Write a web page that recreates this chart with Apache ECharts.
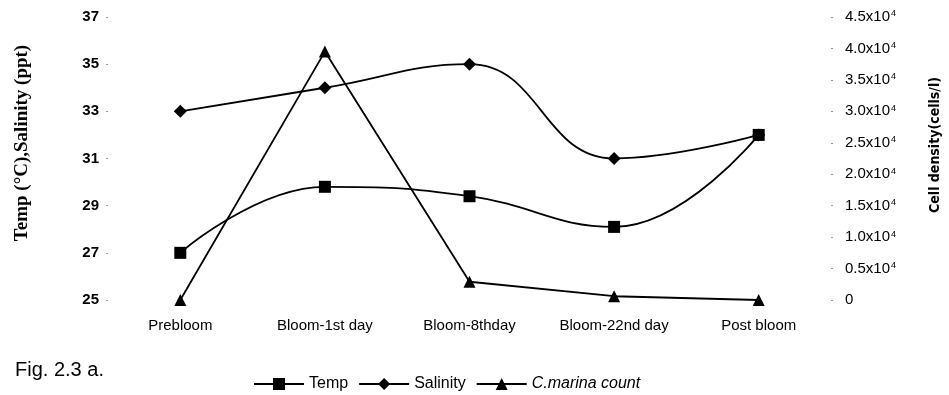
<!DOCTYPE html>
<html>
<head>
<meta charset="utf-8">
<title>Temperature, salinity and C. marina count</title>
<script src="https://cdn.jsdelivr.net/npm/echarts@6/dist/echarts.min.js"></script>
<style>
  html, body { margin: 0; padding: 0; background: #fff; }
  #chart { width: 949px; height: 395px; }
</style>
</head>
<body>
<div id="chart"></div>
<script>
// Sampling stages along the bloom
const stages = ['Prebloom', 'Bloom-1st day', 'Bloom-8thday', 'Bloom-22nd day', 'Post bloom'];

// Water temperature (°C) and salinity (ppt) at each stage
const temp = [27, 29.8, 29.4, 28.1, 32];
const salinity = [33, 34, 35, 31, 32];

// C. marina cell density (cells/l)
const cellCount = [0, 39500, 2900, 600, 0];

// Axis ticks
const leftTicks = [25, 27, 29, 31, 33, 35, 37];
const rightTicks = [0, 5000, 10000, 15000, 20000, 25000, 30000, 35000, 40000, 45000];

const SANS = 'Arial, "Liberation Sans", Helvetica, sans-serif';
const SERIF = '"Times New Roman", "Liberation Serif", serif';
const NARROW = '"Liberation Sans Narrow", "Arial Narrow", "DejaVu Sans Condensed", sans-serif';
const INK = '#000';

function cellLabel(v) {
  if (v === 0) return '{n|0}';
  return '{n|' + (v / 10000).toFixed(1) + 'x10}{e|4}';
}

const chart = echarts.init(document.getElementById('chart'), null, { renderer: 'canvas' });

chart.setOption({
  backgroundColor: '#fff',
  animation: false,
  grid: { left: 108, right: 118, top: 17, bottom: 95, containLabel: false },
  legend: {
    left: 248,
    top: 371,
    itemWidth: 50,
    itemHeight: 15,
    itemGap: 10,
    textStyle: { fontFamily: SANS, fontSize: 16, color: INK },
    data: [
      { name: 'Temp' },
      { name: 'Salinity' },
      { name: 'C.marina count', textStyle: { fontStyle: 'italic' } }
    ]
  },
  xAxis: {
    type: 'category',
    data: stages,
    boundaryGap: true,
    axisLine: { show: false },
    axisTick: { show: false },
    splitLine: { show: false },
    axisLabel: { margin: 18, fontFamily: SANS, fontSize: 15, color: INK, interval: 0 }
  },
  yAxis: [
    {
      type: 'value',
      min: leftTicks[0],
      max: leftTicks[leftTicks.length - 1],
      axisLine: { show: false },
      splitLine: { show: false },
      axisTick: { show: true, length: 2, customValues: leftTicks, lineStyle: { color: '#999', width: 1 } },
      axisLabel: {
        customValues: leftTicks,
        margin: 9,
        fontFamily: SANS,
        fontWeight: 'bold',
        fontSize: 15,
        color: INK
      }
    },
    {
      type: 'value',
      position: 'right',
      min: rightTicks[0],
      max: rightTicks[rightTicks.length - 1],
      axisLine: { show: false },
      splitLine: { show: false },
      axisTick: { show: true, length: 2, customValues: rightTicks, lineStyle: { color: '#999', width: 1 } },
      axisLabel: {
        customValues: rightTicks,
        margin: 14,
        formatter: cellLabel,
        rich: {
          n: { fontFamily: SANS, fontSize: 15, color: INK },
          e: { fontFamily: SANS, fontSize: 9, color: INK, verticalAlign: 'top', padding: [0, 0, 2, 1] }
        }
      }
    }
  ],
  graphic: [
    {
      type: 'text',
      x: 22, y: 143,
      rotation: Math.PI / 2,
      style: {
        text: 'Temp (°C),Salinity (ppt)',
        fontFamily: SERIF, fontWeight: 'bold', fontSize: 19, fill: INK,
        align: 'center', verticalAlign: 'middle'
      }
    },
    {
      type: 'text',
      x: 935, y: 145,
      rotation: Math.PI / 2,
      style: {
        text: 'Cell density(cells/l)',
        fontFamily: NARROW, fontWeight: 'bold', fontSize: 14, fill: INK,
        align: 'center', verticalAlign: 'middle'
      }
    },
    {
      type: 'text',
      left: 15, top: 360,
      style: { text: 'Fig. 2.3 a.', fontFamily: SANS, fontSize: 20, fill: INK }
    }
  ],
  series: [
    {
      name: 'Temp',
      type: 'line',
      yAxisIndex: 0,
      data: temp,
      smooth: 0.45,
      symbol: 'rect',
      symbolSize: 12,
      lineStyle: { color: INK, width: 1.8 },
      itemStyle: { color: INK }
    },
    {
      name: 'Salinity',
      type: 'line',
      yAxisIndex: 0,
      data: salinity,
      smooth: 0.45,
      symbol: 'diamond',
      symbolSize: 13,
      lineStyle: { color: INK, width: 1.8 },
      itemStyle: { color: INK }
    },
    {
      name: 'C.marina count',
      type: 'line',
      yAxisIndex: 1,
      data: cellCount,
      smooth: false,
      symbol: 'triangle',
      symbolSize: 12,
      lineStyle: { color: INK, width: 1.8 },
      itemStyle: { color: INK }
    }
  ]
});
</script>
</body>
</html>
